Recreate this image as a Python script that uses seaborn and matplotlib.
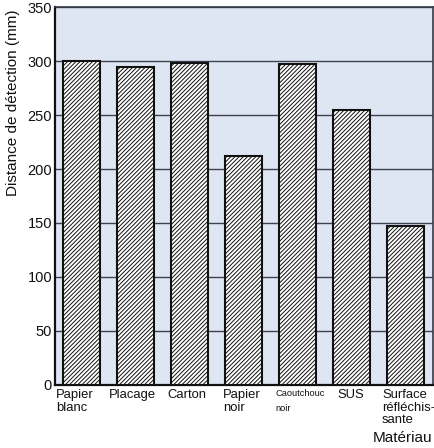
import matplotlib
matplotlib.use("Agg")
import matplotlib.pyplot as plt
import seaborn as sns
import pandas as pd

categories = ["Papier\nblanc", "Placage", "Carton", "Papier\nnoir",
              "Caoutchouc\nnoir", "SUS", "Surface\nréfléchis-\nsante"]
values = [300, 295, 298, 212, 297, 255, 147]
yticks = [0, 50, 100, 150, 200, 250, 300, 350]

# horizontal offset of each category label from its cell's left edge
label_offsets = [0.02, 0.0, 0.09, 0.11, 0.09, 0.24, 0.06]

sns.set_theme(style="white")
plt.rcParams["font.family"] = ["Liberation Sans", "DejaVu Sans"]
plt.rcParams["hatch.linewidth"] = 0.7
plt.rcParams["hatch.color"] = "#222222"

df = pd.DataFrame({"cat": categories, "val": values})

fig = plt.figure(figsize=(4.35, 4.48), dpi=100)
ax = fig.add_axes([0.126, 0.141, 0.869, 0.843])
ax.set_facecolor("#dfe6f3")

sns.barplot(data=df, x="cat", y="val", ax=ax, color="white",
            width=0.69, edgecolor="#111111", linewidth=1.5,
            hatch="////////", zorder=3)

ax.set_ylim(0, 350)
ax.set_xlim(-0.5, len(categories) - 0.5)
ax.set_yticks(yticks)
ax.set_yticklabels([str(v) for v in yticks], fontsize=10.5)
ax.yaxis.grid(True, color="#3c4250", linewidth=1.0, zorder=1)
ax.set_axisbelow(True)
ax.tick_params(axis="y", length=0, pad=2, colors="#111111")

# category labels left-aligned in each cell
ax.set_xticks([i - 0.5 + off for i, off in enumerate(label_offsets)])
ax.set_xticklabels(categories, ha="left", va="top", fontsize=9.4,
                   linespacing=1.08)
for lbl in ax.get_xticklabels():
    if lbl.get_text().startswith("Caoutchouc"):
        lbl.set_fontsize(6.7)
        lbl.set_linespacing(1.85)
ax.tick_params(axis="x", length=0, pad=3, colors="#111111")
ax.set_xticks([i + 0.5 for i in range(len(categories) - 1)], minor=True)
ax.tick_params(axis="x", which="minor", direction="in", length=5,
               width=1.0, color="#111111")

ax.set_xlabel("")
ax.set_ylabel("")
fig.text(0.030, 0.978, "Distance de détection (mm)", rotation=90,
         ha="center", va="top", fontsize=11, color="#111111")

for s in ["left", "bottom"]:
    ax.spines[s].set_color("#111111")
    ax.spines[s].set_linewidth(1.6)
for s in ["top", "right"]:
    ax.spines[s].set_color("#333a45")
    ax.spines[s].set_linewidth(1.2)
    ax.spines[s].set_visible(True)

fig.text(0.993, 0.006, "Matériau", ha="right", va="bottom", fontsize=11,
         color="#111111")

fig.savefig("out.png", dpi=100)
